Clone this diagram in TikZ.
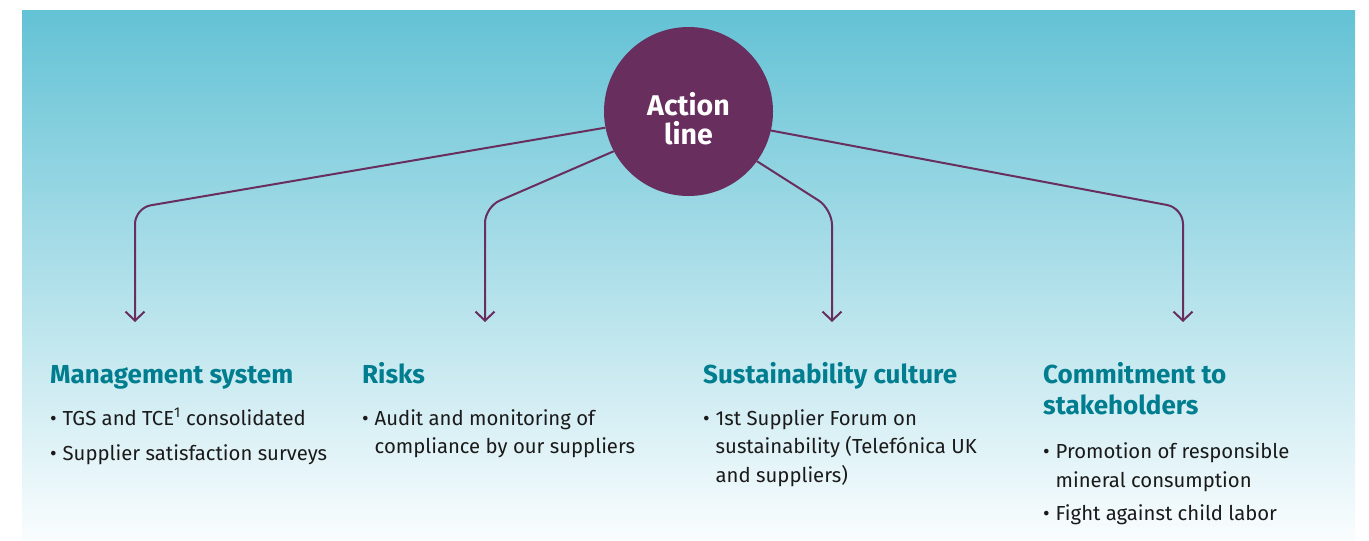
\documentclass[tikz,border=0pt]{standalone}
\usepackage{fontspec}
\setmainfont{Fira Sans}
\usetikzlibrary{arrows.meta}
\definecolor{bgtop}{RGB}{99,194,213}
\definecolor{bgbot}{RGB}{250,253,254}
\definecolor{plum}{RGB}{104,46,94}
\definecolor{headteal}{RGB}{0,125,143}
\definecolor{bodytxt}{RGB}{26,26,26}
\tikzset{
  head/.style={anchor=base west, inner sep=0pt, text=headteal, font=\fontsize{26}{30}\selectfont\bfseries},
  body/.style={anchor=base west, inner sep=0pt, text=bodytxt, font=\fontsize{20.3}{24}\selectfont},
  conn/.style={draw=plum, line width=2pt, rounded corners=16pt, -{Straight Barb[length=9pt,width=19pt]}},
  hub/.style={circle, fill=plum, minimum size=169pt, inner sep=0pt},
  hubtext/.style={anchor=base, inner sep=0pt, text=white, font=\fontsize{28.5}{30}\selectfont\bfseries}
}
\newcommand{\bul}{\makebox[12.5pt][l]{•}}
\begin{document}
\begin{tikzpicture}[x=1pt,y=-1pt]
\useasboundingbox (0,0) rectangle (1369,541);
\shade[top color=bgtop, bottom color=bgbot] (22,10) rectangle (1355,541);
\node[hub] (act) at (688.5,111.5) {};
\node[hubtext] (actl1) at (688.5,115) {Action};
\node[hubtext] (actl2) at (688.5,144) {line};
\coordinate (c1) at (135,208);
\coordinate (e1) at (135,322);
\coordinate (c2) at (485,207);
\coordinate (e2) at (485,322);
\coordinate (c3) at (832,209);
\coordinate (e3) at (832,322);
\coordinate (c4) at (1183,208);
\coordinate (e4) at (1183,322);
\draw[conn] (act.191.8) -- (c1) -- (e1);
\draw[conn] (act.208) -- (c2) -- (e2);
\draw[conn] (act.324) -- (c3) -- (e3);
\draw[conn] (act.347.5) -- (c4) -- (e4);
% Management system
\node[head] (h1) at (50,383) {Management system};
\node[body] (b11) at (50,425) {\bul TGS and TCE\textsuperscript{1} consolidated};
\node[body] (b12) at (50,460) {\bul Supplier satisfaction surveys};
% Risks
\node[head] (h2) at (362,383) {Risks};
\node[body] (b21) at (362,425) {\bul Audit and monitoring of};
\node[body] (b22) at (374.5,453) {compliance by our suppliers};
% Sustainability culture
\node[head] (h3) at (703,383) {Sustainability culture};
\node[body] (b31) at (703,425) {\bul 1st Supplier Forum on};
\node[body] (b32) at (715.5,453) {sustainability (Telefónica UK};
\node[body] (b33) at (715.5,482) {and suppliers)};
% Commitment to stakeholders
\node[head] (h4) at (1043,383) {Commitment to};
\node[head] (h4b) at (1043,414) {stakeholders};
\node[body] (b41) at (1043,458) {\bul Promotion of responsible};
\node[body] (b42) at (1055.5,487) {mineral consumption};
\node[body] (b43) at (1043,520) {\bul Fight against child labor};
\end{tikzpicture}
\end{document}
